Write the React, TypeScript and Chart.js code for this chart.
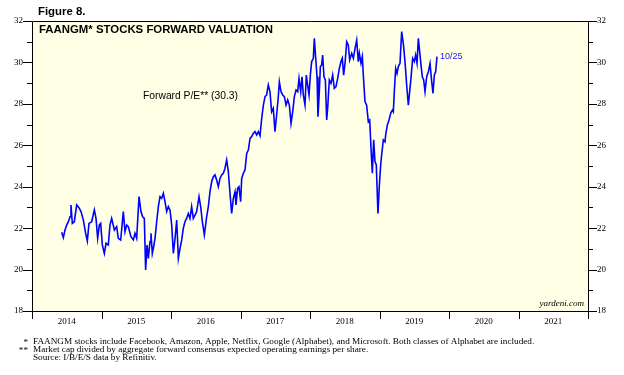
import React, { useEffect, useRef } from "react";
import { Chart, registerables } from "chart.js";

Chart.register(...registerables);

// ---- data (weekly-ish readings, decimal years) ----
const dates2014 = [2014.427, 2014.451, 2014.475, 2014.499, 2014.523, 2014.547, 2014.561, 2014.58, 2014.609, 2014.643, 2014.676, 2014.705, 2014.739, 2014.772, 2014.796, 2014.82, 2014.859, 2014.897, 2014.921, 2014.945, 2014.969, 2014.988];
const pe2014 = [21.8, 21.54, 21.91, 22.15, 22.31, 22.55, 23.12, 22.23, 22.31, 23.12, 22.99, 22.8, 22.39, 21.75, 21.38, 22.23, 22.31, 22.88, 22.47, 21.51, 22.15, 22.23];

const dates2015 = [2015.012, 2015.041, 2015.065, 2015.098, 2015.122, 2015.146, 2015.185, 2015.218, 2015.242, 2015.276, 2015.314, 2015.338, 2015.362, 2015.386, 2015.424, 2015.458, 2015.482, 2015.506, 2015.54, 2015.568, 2015.592, 2015.616, 2015.635, 2015.655, 2015.674, 2015.698, 2015.712, 2015.731, 2015.751, 2015.77, 2015.794, 2015.818, 2015.842, 2015.866, 2015.89, 2015.914, 2015.938, 2015.962, 2015.986];
const pe2015 = [21.19, 20.78, 21.27, 21.19, 22.15, 22.47, 21.91, 22.07, 21.51, 21.43, 22.8, 21.83, 22.15, 22.07, 21.59, 21.43, 21.75, 21.51, 23.52, 22.8, 22.55, 22.47, 19.98, 21.19, 20.54, 21.35, 21.75, 20.78, 21.11, 21.51, 22.31, 23.04, 23.52, 23.44, 23.68, 23.28, 22.8, 23.04, 22.87];

const dates2016 = [2016.01, 2016.034, 2016.058, 2016.082, 2016.106, 2016.13, 2016.154, 2016.177, 2016.201, 2016.225, 2016.249, 2016.273, 2016.297, 2016.321, 2016.345, 2016.369, 2016.403, 2016.427, 2016.451, 2016.48, 2016.513, 2016.537, 2016.561, 2016.585, 2016.609, 2016.633, 2016.657, 2016.681, 2016.705, 2016.729, 2016.753, 2016.777, 2016.801, 2016.825, 2016.849, 2016.873, 2016.897, 2016.921, 2016.935, 2016.959, 2016.978];
const pe2016 = [22.15, 20.78, 21.51, 22.39, 20.54, 21.02, 21.43, 21.99, 22.31, 22.47, 22.71, 22.47, 23.04, 22.47, 22.63, 22.8, 23.52, 23.04, 22.31, 21.67, 22.55, 23.04, 23.76, 24.24, 24.48, 24.57, 24.32, 24.0, 24.4, 24.57, 24.65, 24.89, 25.29, 24.73, 23.68, 22.71, 23.44, 23.76, 23.12, 23.92, 24.0];

const dates2017 = [2017.002, 2017.017, 2017.041, 2017.065, 2017.089, 2017.113, 2017.137, 2017.161, 2017.185, 2017.209, 2017.233, 2017.257, 2017.281, 2017.305, 2017.329, 2017.353, 2017.376, 2017.4, 2017.424, 2017.448, 2017.472, 2017.496, 2017.52, 2017.544, 2017.559, 2017.583, 2017.607, 2017.631, 2017.655, 2017.679, 2017.703, 2017.727, 2017.751, 2017.775, 2017.799, 2017.823, 2017.842, 2017.866, 2017.885, 2017.904, 2017.928, 2017.947, 2017.966, 2017.986];
const pe2017 = [23.28, 24.4, 24.65, 24.81, 25.61, 25.77, 26.33, 26.42, 26.58, 26.66, 26.5, 26.66, 26.46, 27.3, 27.94, 28.35, 28.43, 28.91, 28.59, 27.62, 27.78, 26.66, 27.46, 28.35, 29.07, 28.59, 28.43, 28.35, 27.94, 28.19, 27.94, 27.06, 27.62, 28.35, 28.67, 28.59, 29.23, 28.59, 29.31, 28.43, 27.94, 29.39, 28.91, 28.43];

const dates2018 = [2018.005, 2018.024, 2018.048, 2018.062, 2018.082, 2018.101, 2018.115, 2018.134, 2018.149, 2018.168, 2018.182, 2018.201, 2018.221, 2018.24, 2018.254, 2018.278, 2018.302, 2018.326, 2018.35, 2018.374, 2018.398, 2018.422, 2018.446, 2018.465, 2018.484, 2018.504, 2018.528, 2018.551, 2018.571, 2018.6, 2018.624, 2018.648, 2018.672, 2018.695, 2018.71, 2018.734, 2018.753, 2018.767, 2018.791, 2018.815, 2018.839, 2018.859, 2018.878, 2018.897, 2018.916, 2018.935, 2018.954, 2018.978, 2018.998];
const pe2018 = [29.39, 30.04, 30.2, 31.16, 30.2, 29.31, 27.38, 28.59, 29.8, 29.88, 30.36, 29.31, 29.15, 27.22, 27.78, 29.15, 28.99, 29.39, 28.75, 28.83, 29.23, 29.71, 30.04, 30.2, 29.39, 29.96, 31.0, 30.84, 30.12, 30.44, 30.2, 30.68, 31.08, 30.04, 30.44, 29.96, 30.28, 29.39, 28.11, 27.94, 27.14, 27.22, 25.85, 24.65, 26.26, 25.21, 25.05, 22.71, 24.08];

const dates2019 = [2019.017, 2019.031, 2019.055, 2019.079, 2019.089, 2019.113, 2019.137, 2019.161, 2019.185, 2019.199, 2019.213, 2019.233, 2019.252, 2019.271, 2019.295, 2019.319, 2019.343, 2019.367, 2019.391, 2019.415, 2019.434, 2019.453, 2019.477, 2019.501, 2019.52, 2019.54, 2019.559, 2019.578, 2019.597, 2019.616, 2019.636, 2019.655, 2019.679, 2019.703, 2019.727, 2019.751, 2019.77, 2019.789, 2019.808, 2019.827];
const pe2019 = [25.05, 25.53, 26.26, 26.17, 26.5, 26.98, 27.22, 27.54, 27.7, 27.62, 28.59, 29.71, 29.47, 29.8, 29.96, 31.49, 30.9, 30.04, 28.9, 27.94, 28.59, 29.23, 30.2, 30.04, 30.36, 29.96, 31.16, 30.52, 29.88, 29.31, 29.15, 28.59, 29.31, 29.55, 29.95, 29.07, 28.51, 29.39, 29.55, 30.28];

const yearLabels = [2014, 2015, 2016, 2017, 2018, 2019, 2020, 2021];
const yTickValues = [18, 20, 22, 24, 26, 28, 30, 32];
const yMin = 18;
const yMax = 32;

const figureLabel = "Figure 8.";
const chartTitle = "FAANGM* STOCKS FORWARD VALUATION";
const seriesLabel = "Forward P/E** (30.3)";
const lastDateLabel = "10/25";
const sourceMark = "yardeni.com";
const footnotes = [
  ["*", "FAANGM stocks include Facebook, Amazon, Apple, Netflix, Google (Alphabet), and Microsoft. Both classes of Alphabet are included."],
  ["**", "Market cap divided by aggregate forward consensus expected operating earnings per share."],
  ["", "Source: I/B/E/S data by Refinitiv."],
];

const allDates = [...dates2014, ...dates2015, ...dates2016, ...dates2017, ...dates2018, ...dates2019];
const allPE = [...pe2014, ...pe2015, ...pe2016, ...pe2017, ...pe2018, ...pe2019];

const SANS = '"Liberation Sans", Arial, sans-serif';
const SERIF = '"Liberation Serif", "Times New Roman", serif';

const decor = {
  id: "decor",
  beforeDraw(chart: any) {
    const { ctx, chartArea: a } = chart;
    ctx.save();
    ctx.fillStyle = "#ffffff";
    ctx.fillRect(0, 0, chart.width, chart.height);
    ctx.fillStyle = "#FFFFE6";
    ctx.fillRect(a.left, a.top, a.right - a.left, a.bottom - a.top);
    ctx.restore();
  },
  afterDraw(chart: any) {
    const { ctx, chartArea: a, scales } = chart;
    const ys = scales.y;
    const xs = scales.x;
    ctx.save();
    ctx.strokeStyle = "#000";
    ctx.lineWidth = 1;
    // frame
    ctx.beginPath();
    ctx.rect(Math.round(a.left) + 0.5, Math.round(a.top) + 0.5, Math.round(a.right - a.left), Math.round(a.bottom - a.top));
    ctx.stroke();
    // y ticks
    ctx.beginPath();
    for (let v = yMin; v <= yMax; v++) {
      const y = Math.round(ys.getPixelForValue(v)) + 0.5;
      const len = v % 2 === 0 ? 9 : 5;
      ctx.moveTo(a.left - len, y);
      ctx.lineTo(a.left, y);
      ctx.moveTo(a.right, y);
      ctx.lineTo(a.right + len, y);
    }
    // x ticks at year boundaries
    for (let i = 0; i <= yearLabels.length; i++) {
      const yr = yearLabels[0] + i;
      const x = Math.round(xs.getPixelForValue(yr)) + 0.5;
      ctx.moveTo(x, a.bottom);
      ctx.lineTo(x, a.bottom + 8);
    }
    ctx.stroke();

    // texts
    ctx.fillStyle = "#000";
    ctx.textBaseline = "middle";
    ctx.textAlign = "left";
    ctx.font = `bold 11.4px ${SANS}`;
    ctx.fillText(figureLabel, 38, 11.5);
    ctx.fillText(chartTitle, a.left + 7, a.top + 9);

    ctx.font = `10.3px ${SANS}`;
    ctx.fillText(seriesLabel, 143, 96);

    // last value label
    const lastX = xs.getPixelForValue(allDates[allDates.length - 1]);
    const lastY = ys.getPixelForValue(allPE[allPE.length - 1]);
    ctx.fillStyle = "#1a1aff";
    ctx.font = `9px ${SANS}`;
    ctx.fillText(lastDateLabel, lastX + 3, lastY);

    ctx.fillStyle = "#000";
    ctx.textAlign = "right";
    ctx.font = `italic 9px ${SERIF}`;
    ctx.fillText(sourceMark, a.right - 4, a.bottom - 7);

    // footnotes
    ctx.font = `9.2px ${SERIF}`;
    footnotes.forEach((f, i) => {
      const y = 342 + i * 8;
      ctx.textAlign = "right";
      ctx.fillText(f[0], 28, y + (f[0] ? 1 : 0));
      ctx.textAlign = "left";
      ctx.fillText(f[1], 33, y);
    });
    ctx.restore();
  },
};

export default function App() {
  const ref = useRef<HTMLCanvasElement>(null);
  useEffect(() => {
    document.body.style.margin = "0";
    const tickFont = { family: SERIF, size: 9 };
    const yScaleBase = (pos: "left" | "right", width: number) => ({
      type: "linear" as const,
      position: pos,
      min: yMin,
      max: yMax,
      grid: { display: false, drawTicks: false },
      border: { display: false },
      afterBuildTicks: (s: any) => {
        s.ticks = yTickValues.map((v) => ({ value: v }));
      },
      afterFit: (s: any) => {
        s.width = width;
      },
      ticks: { padding: 9, color: "#000", font: tickFont, callback: (v: any) => String(v) },
    });
    const chart = new Chart(ref.current!, {
      type: "line",
      data: {
        datasets: [
          {
            label: "Forward P/E",
            data: allDates.map((d, i) => ({ x: d, y: allPE[i] })),
            borderColor: "#0000ff",
            borderWidth: 1.6,
            pointRadius: 0,
            tension: 0,
            fill: false,
          },
        ],
      },
      options: {
        animation: false,
        responsive: true,
        maintainAspectRatio: false,
        layout: { padding: { top: 21, left: 0, right: 0, bottom: 0 } },
        plugins: { legend: { display: false }, tooltip: { enabled: false } },
        scales: {
          x: {
            type: "linear",
            min: yearLabels[0],
            max: yearLabels[yearLabels.length - 1] + 1,
            grid: { display: false, drawTicks: false },
            border: { display: false },
            afterBuildTicks: (s: any) => {
              s.ticks = yearLabels.map((y) => ({ value: y + 0.5 }));
            },
            afterFit: (s: any) => {
              s.height = 64;
            },
            ticks: {
              autoSkip: false,
              maxRotation: 0,
              padding: 5,
              color: "#000",
              font: tickFont,
              callback: (v: any) => String(Math.floor(Number(v))),
            },
          },
          y: yScaleBase("left", 32),
          y2: yScaleBase("right", 36),
        },
      },
      plugins: [decor],
    });
    return () => chart.destroy();
  }, []);
  return (
    <div style={{ width: 624, height: 375, position: "relative" }}>
      <canvas ref={ref} />
    </div>
  );
}
